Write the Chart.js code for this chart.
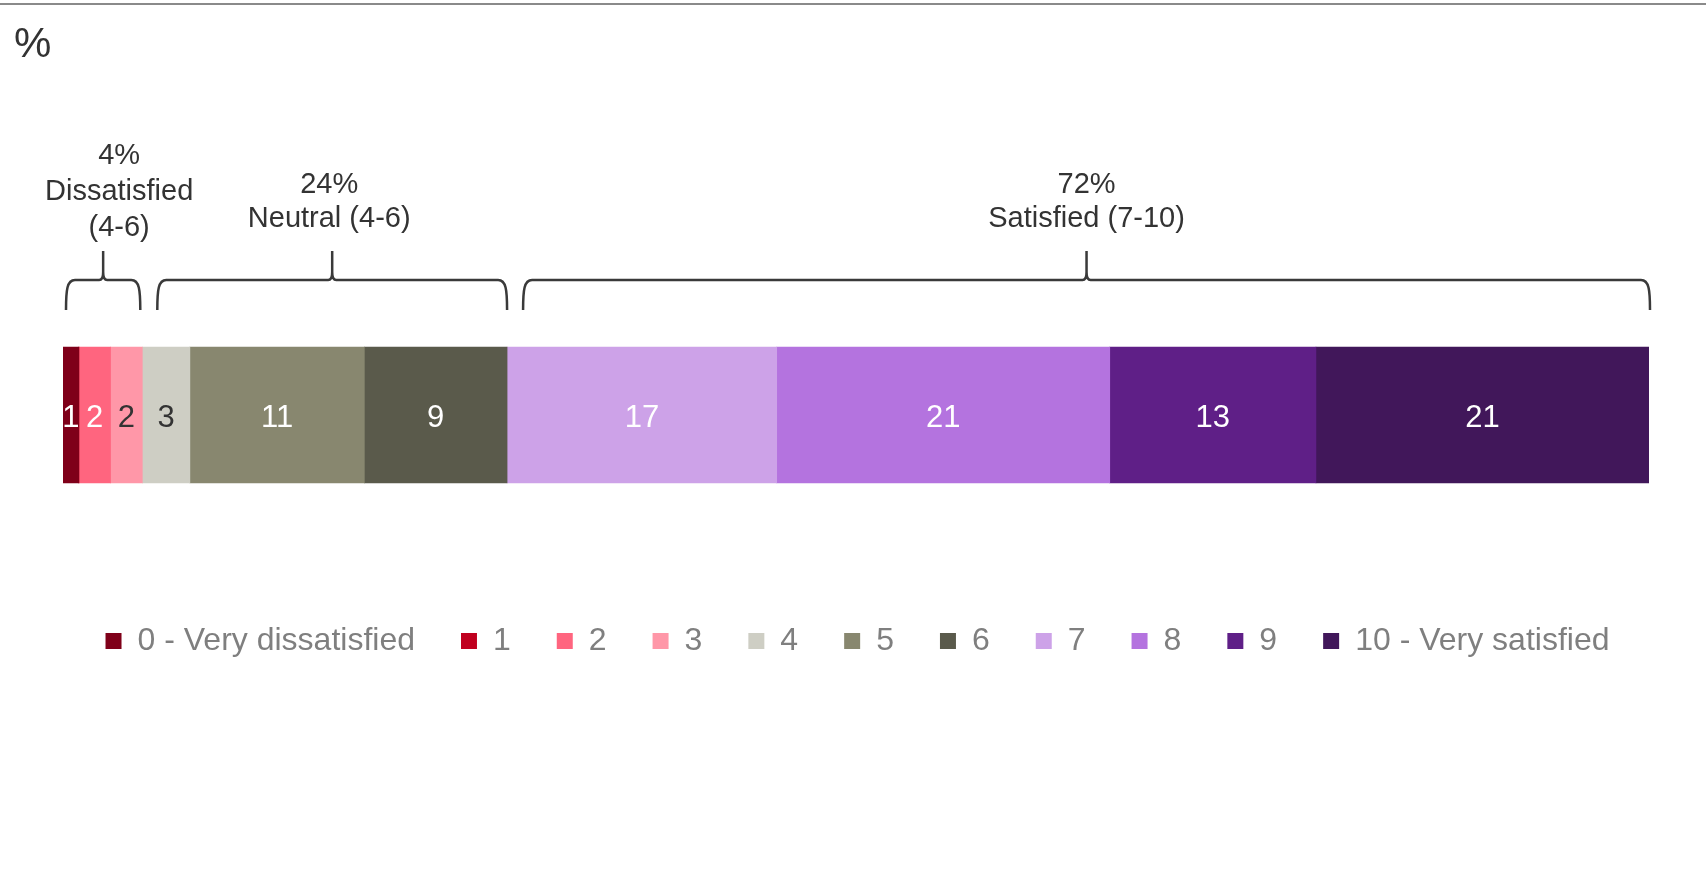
<!DOCTYPE html>
<html lang="en">
<head>
<meta charset="UTF-8">
<title>Satisfaction score</title>
<script src="https://cdn.jsdelivr.net/npm/chart.js"></script>
<style>
  body { margin: 0; background: #fff; overflow: hidden; }
  .wrap { position: relative; width: 1706px; height: 871px; }
</style>
</head>
<body>
<div class="wrap"><canvas id="satChart"></canvas></div>
<script>
// data (% of respondents per score)
const categories = ['0 - Very dissatisfied', '1', '2', '3', '4', '5', '6', '7', '8', '9', '10 - Very satisfied'];
const values = [1, 0, 2, 2, 3, 11, 9, 17, 21, 13, 21];
const colors = ['#7F0019', '#C0001F', '#FF657F', '#FF97A8', '#CECEC4', '#88876F', '#5A5A4B',
                '#CDA2E8', '#B473DF', '#5F1F87', '#41175A'];
const textColors = ['#fff', '#fff', '#fff', '#333', '#333', '#fff', '#fff', '#fff', '#fff', '#fff', '#fff'];

// groups drawn as brackets over the bar
const groupNames = ['Dissatisfied (4-6)', 'Neutral (4-6)', 'Satisfied (7-10)'];
const groupPercents = ['4%', '24%', '72%'];
const groupFirst = [0, 4, 7];
const groupLast = [3, 6, 10];

const FONT = "'Liberation Sans', Arial, sans-serif";

const topLine = {
  id: 'topLine',
  beforeDraw(chart) {
    const ctx = chart.ctx;
    ctx.save();
    ctx.fillStyle = '#8a8a8a';
    ctx.fillRect(0, 3, chart.width, 2);
    ctx.restore();
  }
};

const barLabels = {
  id: 'barLabels',
  afterDatasetsDraw(chart) {
    const ctx = chart.ctx;
    ctx.save();
    ctx.font = '31px ' + FONT;
    ctx.textAlign = 'center';
    ctx.textBaseline = 'middle';
    chart.data.datasets.forEach((ds, i) => {
      const v = ds.data[0];
      if (!v) return;
      const el = chart.getDatasetMeta(i).data[0];
      ctx.fillStyle = textColors[i];
      ctx.fillText(String(v), (el.x + el.base) / 2, el.y + 3);
    });
    ctx.restore();
  }
};

// small tweaks so brackets sit like in the original
const bracketInset = [3, 15, 16];
const bracketEndShift = [-2, 0, 1];
const textShift = [16, -3, 0];

const brackets = {
  id: 'brackets',
  afterDatasetsDraw(chart) {
    const ctx = chart.ctx;
    const xs = chart.scales.x;
    const bar = chart.getDatasetMeta(0).data[0];
    const barTop = bar.y - bar.height / 2;
    const yB = barTop - 37, yH = barTop - 67, yT = barTop - 96;

    ctx.save();
    ctx.strokeStyle = '#3a3a3a';
    ctx.lineWidth = 2.5;
    ctx.font = '29px ' + FONT;
    ctx.fillStyle = '#333';
    ctx.textAlign = 'center';
    ctx.textBaseline = 'middle';

    groupNames.forEach((name, g) => {
      let start = 0;
      for (let i = 0; i < groupFirst[g]; i++) start += values[i];
      let end = start;
      for (let i = groupFirst[g]; i <= groupLast[g]; i++) end += values[i];

      const x1 = xs.getPixelForValue(start) + bracketInset[g];
      const x2 = xs.getPixelForValue(end) + bracketEndShift[g];
      const xm = (x1 + x2) / 2;

      ctx.beginPath();
      ctx.moveTo(x1, yB);
      ctx.bezierCurveTo(x1, yB - 20, x1 + 1, yH, x1 + 9, yH);
      ctx.lineTo(xm - 4, yH);
      ctx.quadraticCurveTo(xm, yH, xm, yH - 8);
      ctx.lineTo(xm, yT);
      ctx.moveTo(xm, yH - 8);
      ctx.quadraticCurveTo(xm, yH, xm + 4, yH);
      ctx.lineTo(x2 - 9, yH);
      ctx.bezierCurveTo(x2 - 1, yH, x2, yB - 20, x2, yB);
      ctx.stroke();

      // wrap the name when the bracket is too narrow
      let lines = [groupPercents[g], name];
      if (ctx.measureText(name).width > (x2 - x1) + 60) {
        const k = name.lastIndexOf(' ');
        lines = [groupPercents[g], name.slice(0, k), name.slice(k + 1)];
      }
      const tx = xm + textShift[g];
      const lastY = lines.length > 2 ? barTop - 119 : barTop - 128;
      const step = lines.length > 2 ? 36 : 34;
      lines.forEach((t, j) => {
        ctx.fillText(t, tx, lastY - (lines.length - 1 - j) * step);
      });
    });
    ctx.restore();
  }
};

const ctx = document.getElementById('satChart').getContext('2d');
const chart = new Chart(ctx, {
  type: 'bar',
  data: {
    labels: [''],
    datasets: categories.map((c, i) => ({
      label: c,
      data: [values[i]],
      backgroundColor: colors[i],
      borderWidth: 0,
      barThickness: 136
    }))
  },
  options: {
    indexAxis: 'y',
    responsive: true,
    maintainAspectRatio: false,
    animation: false,
    layout: { padding: { top: 0, left: 14, right: 5, bottom: 204 } },
    scales: {
      x: { type: 'linear', stacked: true, min: 0, max: 100, display: false },
      y: {
        stacked: true,
        grid: { display: false },
        ticks: { display: false },
        border: { display: false },
        afterFit(s) { s.width = 49; }
      },
      y2: {
        type: 'linear',
        position: 'right',
        grid: { display: false },
        ticks: { display: false },
        border: { display: false },
        afterFit(s) { s.width = 52; }
      }
    },
    plugins: {
      title: {
        display: true,
        text: '%',
        align: 'start',
        color: '#333',
        font: { family: FONT, size: 42, weight: 'normal' },
        padding: { top: 20, bottom: 180.6 }
      },
      legend: {
        position: 'bottom',
        labels: {
          color: '#7f7f7f',
          font: { family: FONT, size: 32 },
          boxWidth: 16,
          boxHeight: 16,
          padding: 46
        }
      },
      tooltip: { enabled: false }
    }
  },
  plugins: [topLine, barLabels, brackets]
});
</script>
</body>
</html>
